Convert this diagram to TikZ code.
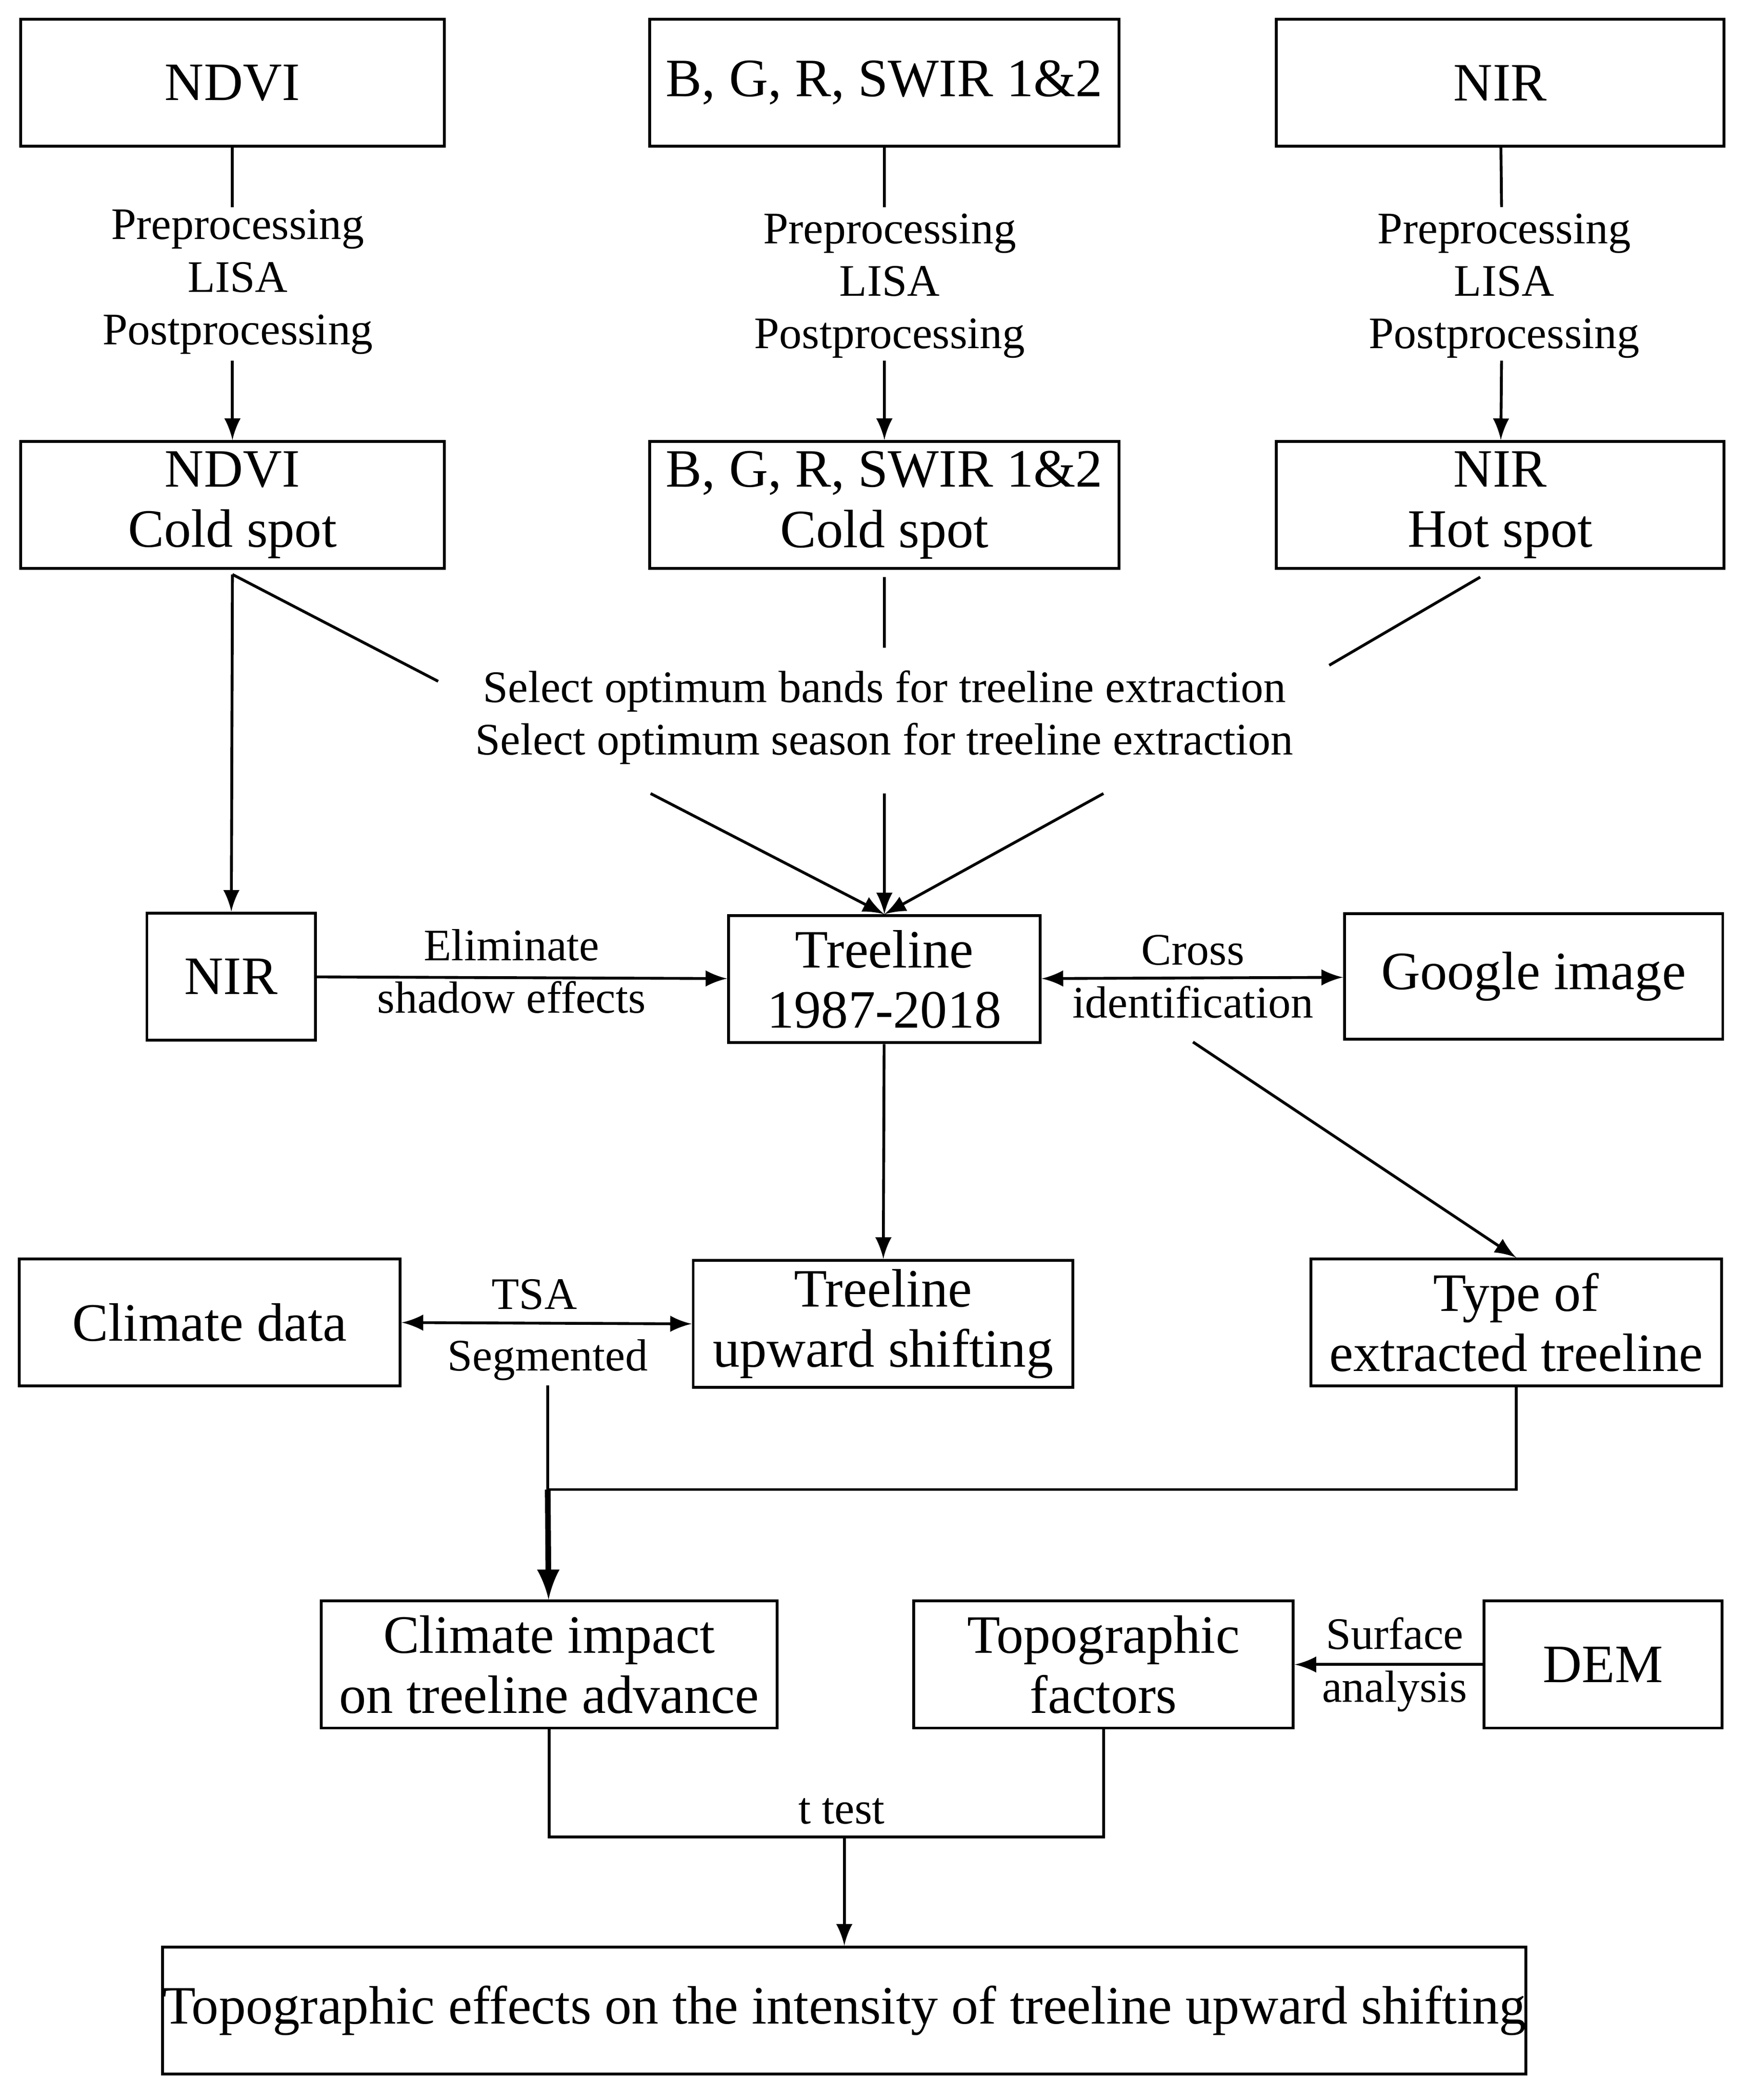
\documentclass[tikz,border=0pt]{standalone}
\usepackage{fontspec}
\setmainfont{Liberation Serif}
\begin{document}
\begin{tikzpicture}[x=0.01cm,y=-0.01cm,
  box/.style={draw,line width=0.6pt,align=center,inner sep=0pt,font=\fontsize{11.5}{12.8}\selectfont},
  lbl/.style={align=center,inner sep=1pt,font=\fontsize{9.6}{11.2}\selectfont},
  arr/.style={-latex,line width=0.6pt},
  ln/.style={line width=0.6pt}]
\useasboundingbox (0,0) rectangle (1309,1572);
% boxes
\node[box,minimum width=3.17cm,minimum height=0.95cm] (ndvi) at (174,62) {NDVI};
\node[box,minimum width=3.51cm,minimum height=0.95cm] (bgr) at (662,62) {B, G, R, SWIR 1\&2};
\node[box,minimum width=3.35cm,minimum height=0.95cm] (nir) at (1123,62) {NIR};
\node[box,minimum width=3.17cm,minimum height=0.95cm] (ndvic) at (174,378) {NDVI\\Cold spot};
\node[box,minimum width=3.51cm,minimum height=0.95cm] (bgrc) at (662,378) {B, G, R, SWIR 1\&2\\Cold spot};
\node[box,minimum width=3.35cm,minimum height=0.95cm] (nirh) at (1123,378) {NIR\\Hot spot};
\node[box,minimum width=1.26cm,minimum height=0.95cm] (nirm) at (173,731) {NIR};
\node[box,minimum width=2.33cm,minimum height=0.95cm] (tree) at (662,733) {Treeline\\1987-2018};
\node[box,minimum width=2.83cm,minimum height=0.94cm] (goog) at (1148,731) {Google image};
\node[box,minimum width=2.85cm,minimum height=0.95cm] (clim) at (157,990) {Climate data};
\node[box,minimum width=2.84cm,minimum height=0.95cm] (tup) at (661,991) {Treeline\\upward shifting};
\node[box,minimum width=3.07cm,minimum height=0.95cm] (type) at (1135,990) {Type of\\extracted treeline};
\node[box,minimum width=3.41cm,minimum height=0.95cm] (cimp) at (411,1246) {Climate impact\\on treeline advance};
\node[box,minimum width=2.84cm,minimum height=0.95cm] (topo) at (826,1246) {Topographic\\factors};
\node[box,minimum width=1.78cm,minimum height=0.95cm] (dem) at (1200,1246) {DEM};
\node[box,minimum width=9.94cm,minimum height=0.95cm] (fin) at (632,1505) {Topographic effects on the intensity of treeline upward shifting};
% labels
\node[lbl] (p1) at (178,211) {Preprocessing\\LISA\\Postprocessing};
\node[lbl] (p2) at (666,214) {Preprocessing\\LISA\\Postprocessing};
\node[lbl] (p3) at (1126,214) {Preprocessing\\LISA\\Postprocessing};
\node[lbl] (sel) at (662,537) {Select optimum bands for treeline extraction\\Select optimum season for treeline extraction};
\node[lbl] (elim) at (383,727) {Eliminate\\shadow effects};
\node[lbl] (cross) at (893,731) {Cross\\identification};
\node[lbl] (tsa) at (400,969) {TSA};
\node[lbl] (seg) at (410,1018) {Segmented};
\node[lbl] (surf) at (1044,1246) {Surface\\analysis};
\node[lbl] (tt) at (630,1356) {t test};
% coordinates
\coordinate (a1) at (174,155); \coordinate (a2) at (174,270);
\coordinate (b1) at (662,155); \coordinate (b2) at (662,270);
\coordinate (c1) at (1124,155); \coordinate (c2) at (1124,270);
\coordinate (d0) at (174,430); \coordinate (d1) at (328,510);
\coordinate (e0) at (662,432); \coordinate (e1) at (662,485);
\coordinate (f0) at (1108,432); \coordinate (f1) at (995,498);
\coordinate (g1) at (487,594); \coordinate (g2) at (662,594); \coordinate (g3) at (826,594);
\coordinate (h0) at (893,780);
\coordinate (s0) at (410,1037); \coordinate (s1) at (410,1115); \coordinate (s2) at (1136,1115);
\coordinate (t0) at (411,1375); \coordinate (t1) at (826,1375); \coordinate (t2) at (632,1375);
% connectors
\draw[ln] (ndvi) -- (a1); \draw[arr] (a2) -- (ndvic);
\draw[ln] (bgr) -- (b1); \draw[arr] (b2) -- (bgrc);
\draw[ln] (nir) -- (c1); \draw[arr] (c2) -- (nirh);
\draw[arr] (d0) -- (nirm);
\draw[ln] (d0) -- (d1);
\draw[ln] (e0) -- (e1);
\draw[ln] (f0) -- (f1);
\draw[arr] (g1) -- (tree.north);
\draw[arr] (g2) -- (tree.north);
\draw[arr] (g3) -- (tree.north);
\draw[arr] (nirm) -- (tree);
\draw[latex-latex,line width=0.6pt] (tree) -- (goog);
\draw[arr] (tree) -- (tup);
\draw[arr] (h0) -- (type.north);
\draw[latex-latex,line width=0.6pt] (clim.east) -- (tup.west);
\draw[ln] (s0) -- (s1);
\draw[ln] (type.south) |- (s1);
\draw[-latex,line width=1.2pt] (s1) -- (cimp);
\draw[arr] (dem) -- (topo);
\draw[ln] (cimp.south) -- (t0) -- (t1) -- (topo.south);
\draw[arr] (t2) -- (fin);
\end{tikzpicture}
\end{document}
